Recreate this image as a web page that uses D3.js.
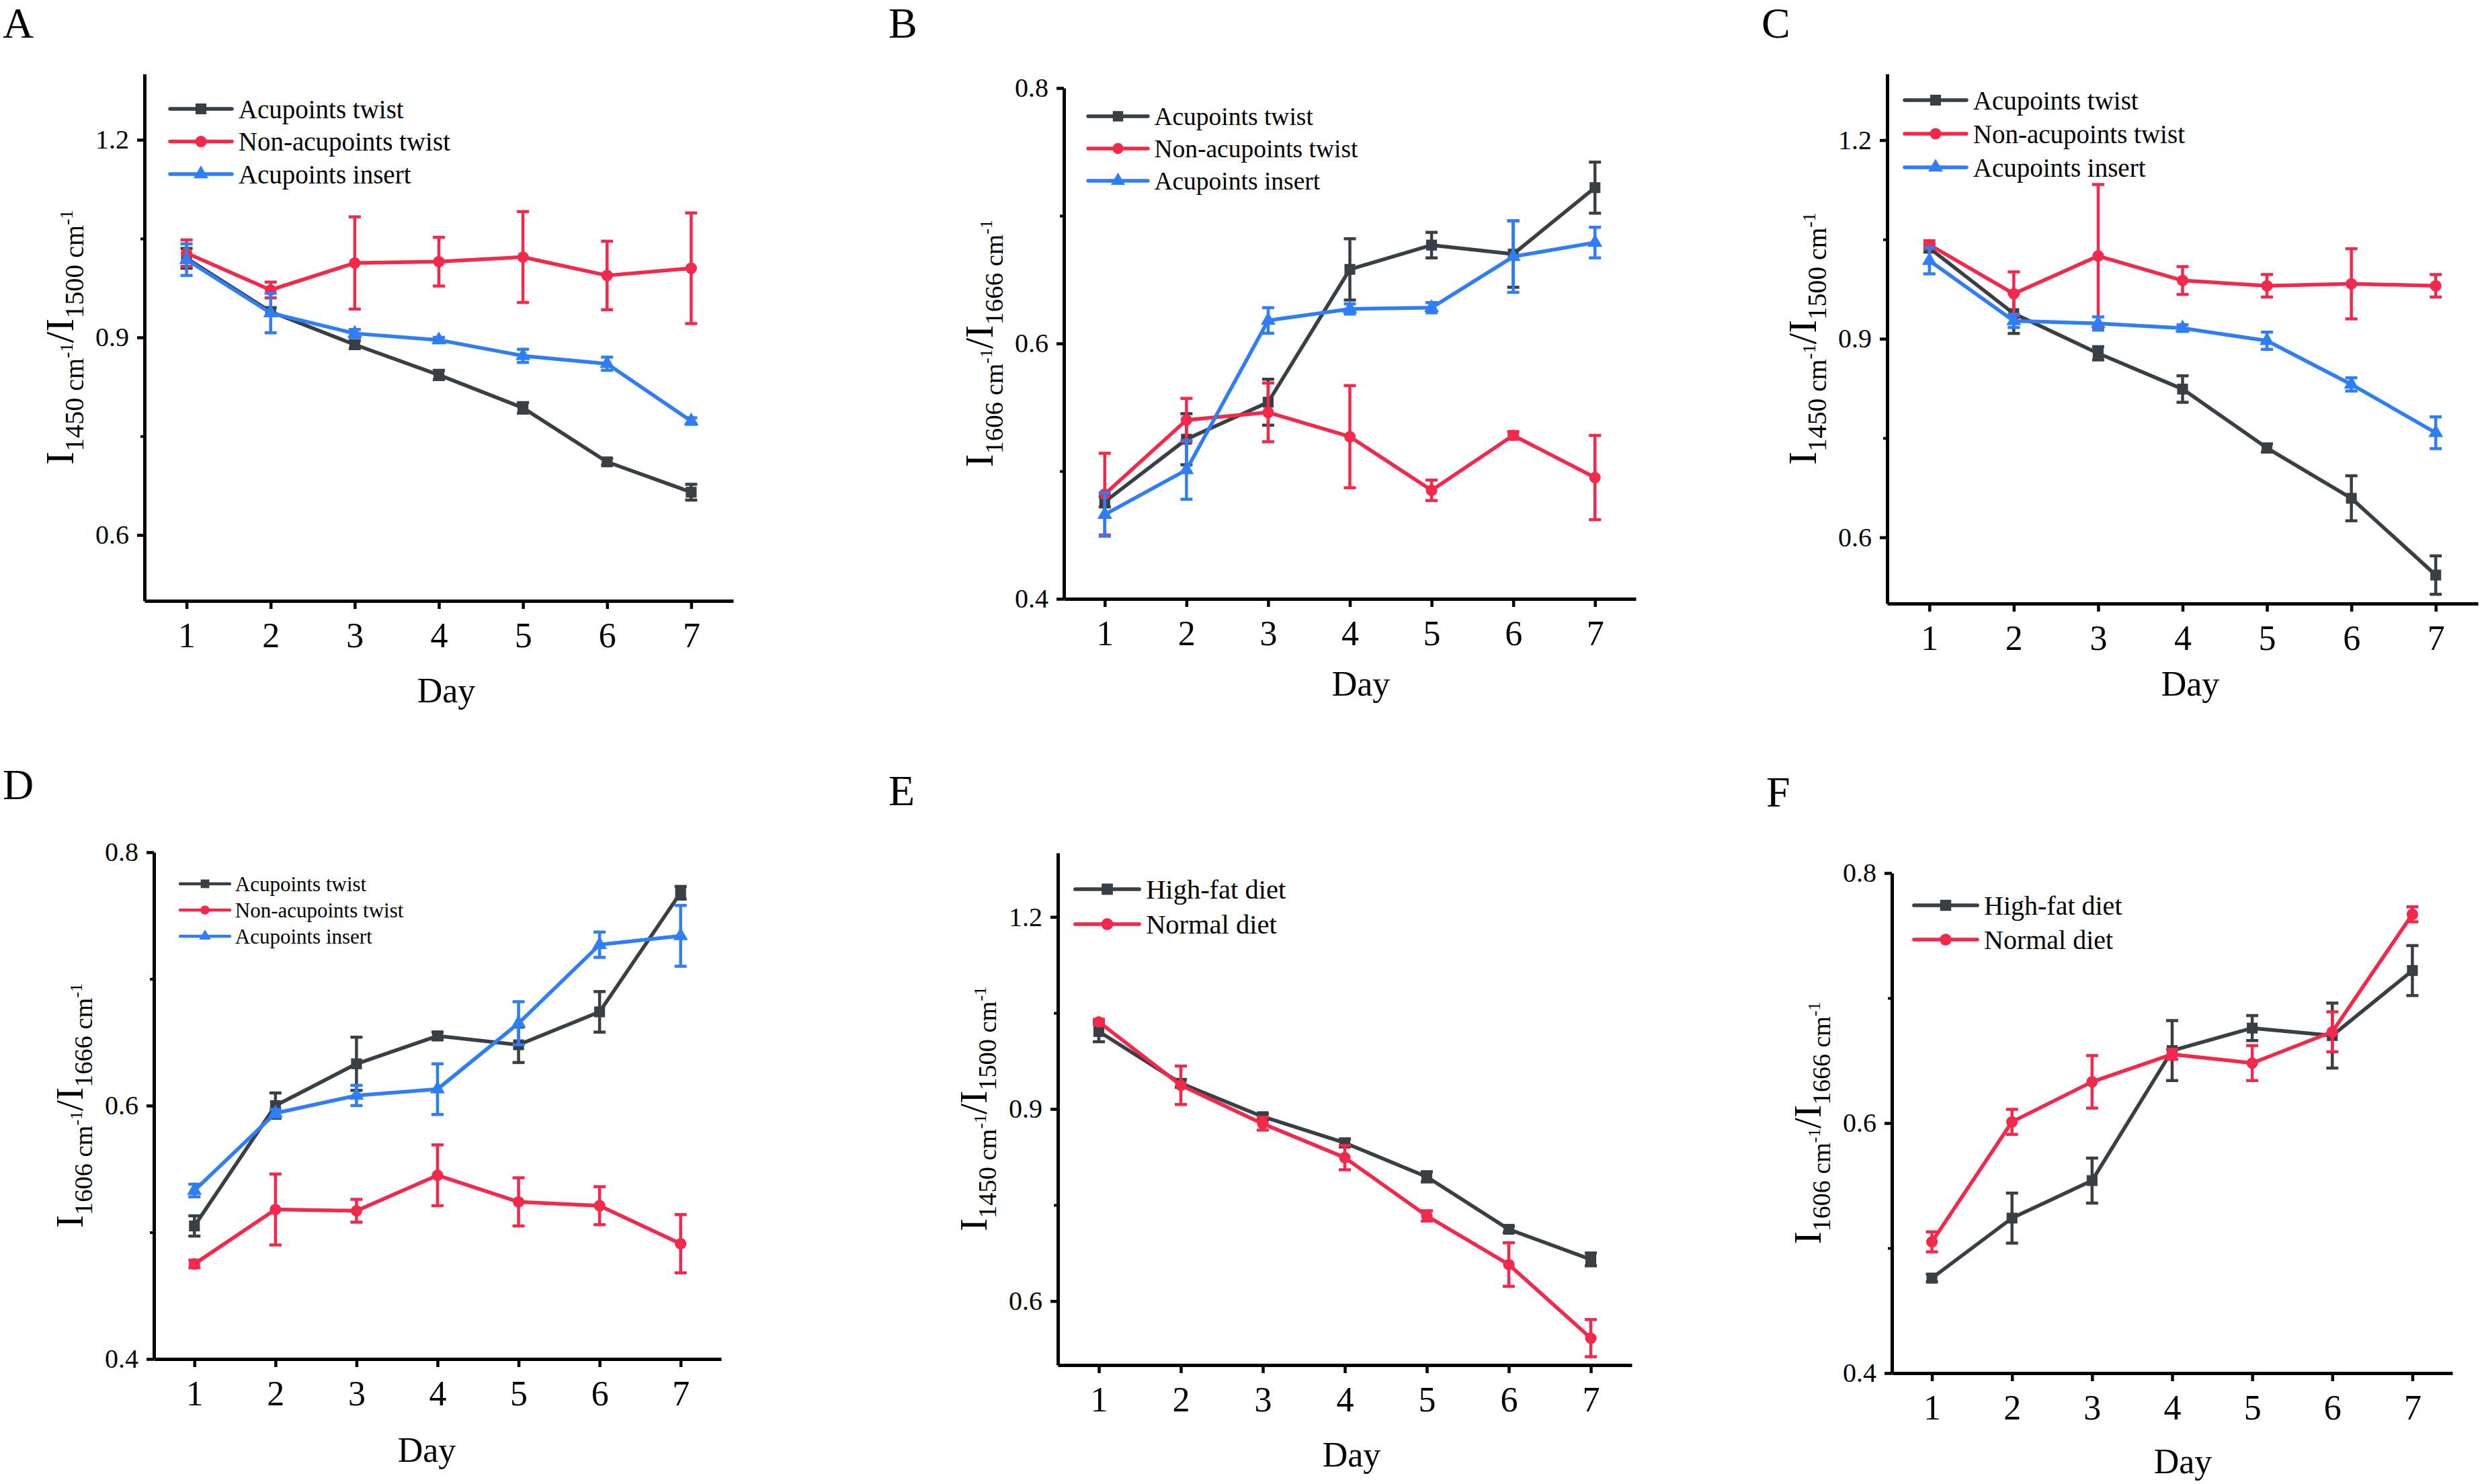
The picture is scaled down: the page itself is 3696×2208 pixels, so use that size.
<!DOCTYPE html>
<html>
<head>
<meta charset="utf-8">
<script src="https://cdn.jsdelivr.net/npm/d3@7"></script>
<style>
  body { margin: 0; background: #fff; }
</style>
</head>
<body>
<div id="chart"></div>
<script>
// ---- data ----
const days = [1, 2, 3, 4, 5, 6, 7]

const groupNames = ["Acupoints twist", "Non-acupoints twist", "Acupoints insert"]
const dietNames = ["High-fat diet", "Normal diet"]

// A: I1450/I1500
const twistA = [1.020, 0.939, 0.889, 0.843, 0.793, 0.711, 0.665]
const twistErrA = [0.015, 0.006, 0.006, 0.007, 0.008, 0.005, 0.012]
const nonTwistA = [1.028, 0.972, 1.013, 1.015, 1.022, 0.994, 1.005]
const nonTwistErrA = [0.020, 0.012, 0.070, 0.037, 0.069, 0.052, 0.084]
const insertA = [1.018, 0.937, 0.906, 0.896, 0.872, 0.860, 0.773]
const insertErrA = [0.024, 0.030, 0.006, 0.004, 0.010, 0.010, 0.005]

// B: I1606/I1666
const twistB = [0.476, 0.525, 0.554, 0.658, 0.677, 0.670, 0.722]
const twistErrB = [0.004, 0.020, 0.018, 0.024, 0.010, 0.026, 0.020]
const nonTwistB = [0.482, 0.540, 0.546, 0.527, 0.485, 0.528, 0.495]
const nonTwistErrB = [0.032, 0.017, 0.023, 0.040, 0.008, 0.003, 0.033]
const insertB = [0.466, 0.501, 0.618, 0.627, 0.628, 0.668, 0.679]
const insertErrB = [0.017, 0.023, 0.010, 0.004, 0.004, 0.028, 0.012]

// C: I1450/I1500
const twistC = [1.037, 0.938, 0.878, 0.824, 0.735, 0.659, 0.543]
const twistErrC = [0.006, 0.030, 0.010, 0.020, 0.006, 0.034, 0.029]
const nonTwistC = [1.042, 0.968, 1.025, 0.988, 0.980, 0.983, 0.980]
const nonTwistErrC = [0.006, 0.033, 0.108, 0.021, 0.017, 0.053, 0.017]
const insertC = [1.018, 0.927, 0.923, 0.916, 0.897, 0.831, 0.758]
const insertErrC = [0.020, 0.010, 0.010, 0.005, 0.013, 0.010, 0.024]

// D: I1606/I1666
const twistD = [0.505, 0.600, 0.633, 0.655, 0.648, 0.674, 0.768]
const twistErrD = [0.008, 0.010, 0.021, 0.003, 0.014, 0.016, 0.005]
const nonTwistD = [0.475, 0.518, 0.517, 0.545, 0.524, 0.521, 0.491]
const nonTwistErrD = [0.003, 0.028, 0.009, 0.024, 0.019, 0.015, 0.023]
const insertD = [0.533, 0.594, 0.608, 0.613, 0.665, 0.727, 0.734]
const insertErrD = [0.005, 0.003, 0.008, 0.020, 0.017, 0.010, 0.024]

// E: I1450/I1500
const highFatE = [1.021, 0.940, 0.888, 0.847, 0.794, 0.712, 0.665]
const highFatErrE = [0.016, 0.006, 0.005, 0.006, 0.008, 0.005, 0.010]
const normalE = [1.036, 0.937, 0.877, 0.824, 0.733, 0.657, 0.542]
const normalErrE = [0.004, 0.030, 0.010, 0.019, 0.008, 0.034, 0.029]

// F: I1606/I1666
const highFatF = [0.476, 0.524, 0.554, 0.658, 0.676, 0.670, 0.722]
const highFatErrF = [0.003, 0.020, 0.018, 0.024, 0.010, 0.026, 0.020]
const normalF = [0.505, 0.601, 0.633, 0.655, 0.648, 0.673, 0.767]
const normalErrF = [0.008, 0.010, 0.021, 0.004, 0.014, 0.016, 0.006]

const yTicks1450 = [0.6, 0.9, 1.2]
const yMinor1450 = [0.75, 1.05]
const yTicks1606 = [0.4, 0.6, 0.8]
const yMinor1606 = [0.5, 0.7]

// ---- styles ----
const FONT = "'Liberation Serif', 'Times New Roman', serif"
const COLORS = { dark: "#383f45", red: "#f2294b", blue: "#2f7ef5" }

const W = 3696, H = 2208

const svg = d3.select("#chart").append("svg")
  .attr("width", W)
  .attr("height", H)
  .style("background", "#fff")

const styleOf = [
  { color: COLORS.dark, symbol: d3.symbolSquare, size: 260 },
  { color: COLORS.red, symbol: d3.symbolCircle, size: 230 },
  { color: COLORS.blue, symbol: d3.symbolTriangle, size: 210 }
]

function series(names, vals, errs) {
  return names.map((n, i) => ({
    name: n,
    points: days.map((d, j) => ({ day: d, v: vals[i][j], e: errs[i][j] })),
    style: styleOf[i]
  }))
}

const panels = [
  {
    id: "A", left: 215, right: 1091, top: 110, bottom: 894, yDomain: [0.5, 1.3],
    ticks: yTicks1450, minor: yMinor1450, nums: ["1450", "1500"],
    tag: [4, 56], day: [664, 1045], ylab: 1,
    legend: { x: 253, y: 162, step: 48.5, font: 39, len: 92 },
    data: series(groupNames, [twistA, nonTwistA, insertA], [twistErrA, nonTwistErrA, insertErrA])
  },
  {
    id: "B", left: 1583, right: 2434, top: 131, bottom: 891, yDomain: [0.4, 0.8],
    ticks: yTicks1606, minor: yMinor1606, nums: ["1606", "1666"],
    tag: [1322, 56], day: [2025, 1035], ylab: 0.97,
    legend: { x: 1619, y: 173, step: 48, font: 37.5, len: 89 },
    data: series(groupNames, [twistB, nonTwistB, insertB], [twistErrB, nonTwistErrB, insertErrB])
  },
  {
    id: "C", left: 2808, right: 3687, top: 110, bottom: 898, yDomain: [0.5, 1.3],
    ticks: yTicks1450, minor: yMinor1450, nums: ["1450", "1500"],
    tag: [2621, 56], day: [3259, 1035], ylab: 0.99,
    legend: { x: 2834, y: 149, step: 50, font: 39, len: 92 },
    data: series(groupNames, [twistC, nonTwistC, insertC], [twistErrC, nonTwistErrC, insertErrC])
  },
  {
    id: "D", left: 229, right: 1073, top: 1268, bottom: 2022, yDomain: [0.4, 0.8],
    ticks: yTicks1606, minor: yMinor1606, nums: ["1606", "1666"],
    tag: [4, 1189], day: [635, 2175], ylab: 0.96,
    legend: { x: 268, y: 1315, step: 39, font: 31, len: 74 },
    data: series(groupNames, [twistD, nonTwistD, insertD], [twistErrD, nonTwistErrD, insertErrD])
  },
  {
    id: "E", left: 1574, right: 2428, top: 1269, bottom: 2031, yDomain: [0.5, 1.3],
    ticks: yTicks1450, minor: yMinor1450, nums: ["1450", "1500"],
    tag: [1322, 1198], day: [2011, 2182], ylab: 0.96,
    legend: { x: 1600, y: 1323, step: 52, font: 40.5, len: 95 },
    data: series(dietNames, [highFatE, normalE], [highFatErrE, normalErrE])
  },
  {
    id: "F", left: 2815, right: 3649, top: 1299, bottom: 2043, yDomain: [0.4, 0.8],
    ticks: yTicks1606, minor: yMinor1606, nums: ["1606", "1666"],
    tag: [2628, 1200], day: [3248, 2192], ylab: 0.95,
    legend: { x: 2848, y: 1347, step: 51, font: 40, len: 94 },
    data: series(dietNames, [highFatF, normalF], [highFatErrF, normalErrF])
  }
]

panels.forEach(drawPanel)

function drawPanel(p) {
  const g = svg.append("g").attr("class", "panel-" + p.id)

  const x = d3.scaleLinear().domain([0.5, 7.5]).range([p.left, p.right])
  const y = d3.scaleLinear().domain(p.yDomain).range([p.bottom, p.top])

  // panel letter
  g.append("text")
    .attr("x", p.tag[0])
    .attr("y", p.tag[1])
    .attr("font-family", FONT)
    .attr("font-size", 64)
    .text(p.id)

  // minor y ticks
  g.append("g")
    .attr("transform", `translate(${p.left},0)`)
    .call(d3.axisLeft(y).tickValues(p.minor).tickSize(6).tickFormat(""))
    .call(a => a.select(".domain").remove())
    .call(a => a.selectAll("line").attr("stroke", "#000").attr("stroke-width", 4))

  // major y axis
  g.append("g")
    .attr("transform", `translate(${p.left},0)`)
    .call(d3.axisLeft(y).tickValues(p.ticks).tickSize(11).tickSizeOuter(0)
      .tickPadding(12).tickFormat(d3.format(".1f")))
    .attr("font-family", FONT)
    .attr("font-size", 40)
    .call(a => a.select(".domain").attr("stroke", "#000").attr("stroke-width", 5))
    .call(a => a.selectAll(".tick line").attr("stroke", "#000").attr("stroke-width", 4.5))
    .call(a => a.selectAll("text").attr("fill", "#000"))

  // x axis
  g.append("g")
    .attr("transform", `translate(0,${p.bottom})`)
    .call(d3.axisBottom(x).tickValues(days).tickSize(12).tickSizeOuter(0)
      .tickPadding(20).tickFormat(d3.format("d")))
    .attr("font-family", FONT)
    .attr("font-size", 52)
    .call(a => a.select(".domain").attr("stroke", "#000").attr("stroke-width", 5))
    .call(a => a.selectAll(".tick line").attr("stroke", "#000").attr("stroke-width", 4.5))
    .call(a => a.selectAll("text").attr("fill", "#000"))

  // x label
  g.append("text")
    .attr("x", p.day[0])
    .attr("y", p.day[1])
    .attr("text-anchor", "middle")
    .attr("font-family", FONT)
    .attr("font-size", 52)
    .text("Day")

  // y label: I_{n1 cm^-1}/I_{n2 cm^-1}
  const s = p.ylab
  const yl = g.append("text")
    .attr("transform", `translate(${p.left - 106},${(p.top + p.bottom) / 2}) rotate(-90)`)
    .attr("text-anchor", "middle")
    .attr("font-family", FONT)
  yl.append("tspan").attr("font-size", 60 * s).text("I")
  yl.append("tspan").attr("font-size", 40 * s).attr("dy", 15 * s).text(p.nums[0] + " cm")
  yl.append("tspan").attr("font-size", 27 * s).attr("dy", -16 * s).text("-1")
  yl.append("tspan").attr("font-size", 60 * s).attr("dy", 1 * s).text("/I")
  yl.append("tspan").attr("font-size", 40 * s).attr("dy", 15 * s).text(p.nums[1] + " cm")
  yl.append("tspan").attr("font-size", 27 * s).attr("dy", -16 * s).text("-1")

  // series
  const line = d3.line().x(d => x(d.day)).y(d => y(d.v))
  p.data.forEach(sr => {
    const sg = g.append("g")
    sg.append("path")
      .datum(sr.points)
      .attr("d", line)
      .attr("fill", "none")
      .attr("stroke", sr.style.color)
      .attr("stroke-width", 5.5)
      .attr("stroke-linejoin", "round")

    const eb = sg.selectAll(".err")
      .data(sr.points)
      .join("g")
      .attr("stroke", sr.style.color)
      .attr("stroke-width", 4.5)
    eb.append("line")
      .attr("x1", d => x(d.day)).attr("x2", d => x(d.day))
      .attr("y1", d => y(d.v - d.e)).attr("y2", d => y(d.v + d.e))
    eb.append("line")
      .attr("x1", d => x(d.day) - 9).attr("x2", d => x(d.day) + 9)
      .attr("y1", d => y(d.v + d.e)).attr("y2", d => y(d.v + d.e))
    eb.append("line")
      .attr("x1", d => x(d.day) - 9).attr("x2", d => x(d.day) + 9)
      .attr("y1", d => y(d.v - d.e)).attr("y2", d => y(d.v - d.e))

    sg.selectAll(".mark")
      .data(sr.points)
      .join("path")
      .attr("transform", d => `translate(${x(d.day)},${y(d.v)})`)
      .attr("d", d3.symbol(sr.style.symbol, sr.style.size))
      .attr("fill", sr.style.color)
  })

  // legend
  const L = p.legend
  const k = L.font / 39
  p.data.forEach((sr, i) => {
    const ly = L.y + i * L.step
    const lg = g.append("g").attr("transform", `translate(${L.x},${ly})`)
    lg.append("line")
      .attr("x1", 0).attr("x2", L.len)
      .attr("stroke", sr.style.color)
      .attr("stroke-width", 5.5 * k)
      .attr("stroke-linecap", "round")
    lg.append("path")
      .attr("transform", `translate(${L.len / 2},0)`)
      .attr("d", d3.symbol(sr.style.symbol, sr.style.size * k * k))
      .attr("fill", sr.style.color)
    lg.append("text")
      .attr("x", L.len + 0.25 * L.font)
      .attr("dy", "0.35em")
      .attr("font-family", FONT)
      .attr("font-size", L.font)
      .text(sr.name)
  })
}
</script>
</body>
</html>
